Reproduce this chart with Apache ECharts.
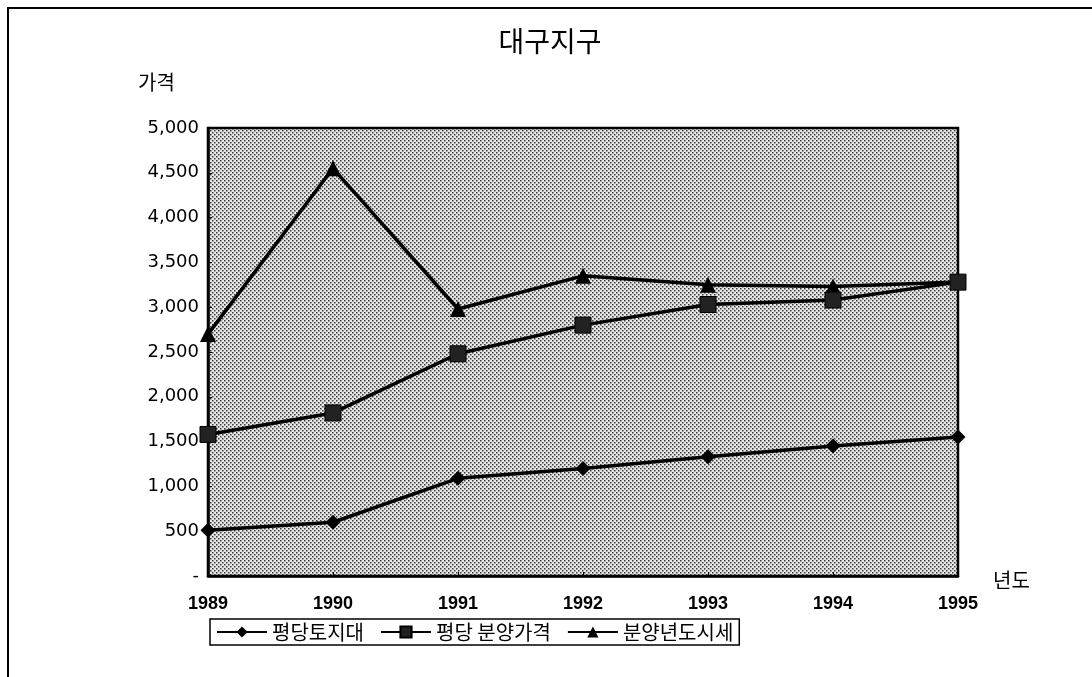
<!DOCTYPE html>
<html>
<head>
<meta charset="utf-8">
<script src="https://cdn.jsdelivr.net/npm/echarts@6/dist/echarts.min.js"></script>
<style>
html,body{margin:0;padding:0;background:#fff;}
#chart{width:1092px;height:677px;}
</style>
</head>
<body>
<div id="chart"></div>
<script>
var years = ['1989','1990','1991','1992','1993','1994','1995'];
var landPrice = [510, 600, 1090, 1200, 1330, 1450, 1550];
var salePrice = [1580, 1820, 2480, 2800, 3030, 3080, 3280];
var marketPrice = [2700, 4550, 2980, 3350, 3250, 3230, 3280];
var seriesNames = ['평당토지대', '평당 분양가격', '분양년도시세'];

// halftone background of the plot area
function dotPattern(){
	var c = document.createElement('canvas');
	c.width = 4; c.height = 4;
	var g = c.getContext('2d');
	g.fillStyle = '#e6e6e6';
	g.fillRect(0,0,4,4);
	g.fillStyle = '#3a3a3a';
	g.fillRect(0,0,1.5,1.5);
	g.fillRect(2,2,1.5,1.5);
	return c;
}

var numFont = '"Liberation Sans", Arial, sans-serif';
var krFont = '"Noto Sans CJK KR", sans-serif';

var chart = echarts.init(document.getElementById('chart'));
var option = {
	backgroundColor:'#fff',
	animation:false,
	title:{
		text:'대구지구', left:545, top:22, textAlign:'center',
		textStyle:{fontFamily:krFont, fontSize:28, fontWeight:'normal', color:'#000'}
	},
	graphic:[
		{type:'rect', shape:{x:8, y:8, width:1100, height:700}, style:{fill:null, stroke:'#000', lineWidth:2}, silent:true},
		{type:'text', left:138, top:72, style:{text:'가격', fontFamily:krFont, fontSize:20, fill:'#000'}},
		{type:'text', left:993, top:570, style:{text:'년도', fontFamily:krFont, fontSize:20, fill:'#000'}}
	],
	legend:{
		left:210, top:619, width:540,
		itemWidth:50, itemHeight:14, itemGap:16,
		borderColor:'#000', borderWidth:1.5, padding:[3,6,3,6],
		textStyle:{fontFamily:krFont, fontSize:20, color:'#000'},
		data:seriesNames
	},
	grid:{
		left:208, right:134, top:128, bottom:101,
		show:true, backgroundColor:{image:dotPattern(), repeat:'repeat'},
		borderColor:'#000', borderWidth:2.5
	},
	xAxis:{
		type:'category', data:years, boundaryGap:false,
		axisLine:{lineStyle:{color:'#000', width:2.5}},
		axisTick:{inside:true, length:4, lineStyle:{color:'#000'}},
		axisLabel:{fontFamily:numFont, fontSize:18, fontWeight:'bold', color:'#000', margin:19},
		splitLine:{show:false}
	},
	yAxis:{
		type:'value', min:0, max:5000, interval:500,
		axisLine:{show:true, lineStyle:{color:'#000', width:2.5}},
		axisTick:{show:true, inside:true, length:4, lineStyle:{color:'#000'}},
		axisLabel:{fontFamily:'"DejaVu Sans", sans-serif', fontSize:18, color:'#000', margin:9,
			formatter:function(v){ return v === 0 ? '-' : echarts.format.addCommas(v); }},
		splitLine:{show:false}
	},
	series:[
		{name:seriesNames[0], type:'line', data:landPrice, symbol:'diamond', symbolSize:15, z:2,
			lineStyle:{color:'#000', width:3.5}, itemStyle:{color:'#000'}},
		{name:seriesNames[1], type:'line', data:salePrice, symbol:'rect', symbolSize:16, z:4,
			lineStyle:{color:'#000', width:3.5}, itemStyle:{color:'#222', borderColor:'#000', borderWidth:1}},
		{name:seriesNames[2], type:'line', data:marketPrice, symbol:'triangle', symbolSize:16, z:3,
			lineStyle:{color:'#000', width:3.5}, itemStyle:{color:'#000'}}
	]
};
chart.setOption(option);
</script>
</body>
</html>
